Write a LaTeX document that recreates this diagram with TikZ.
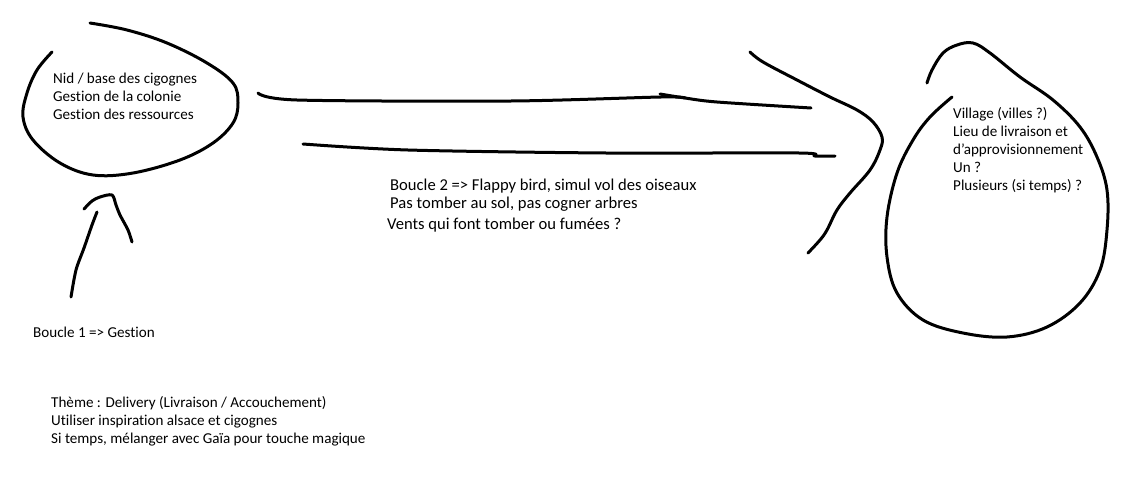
\documentclass[tikz,border=0pt]{standalone}
\usepackage{fontspec}
\setmainfont{Carlito}[Ligatures=NoCommon]
\usetikzlibrary{positioning}

\tikzset{
    note/.style={inner sep=0pt, anchor=west, align=left, text=black,
        font=\fontsize{15.1}{18}\selectfont},
    stroke/.style={line width=3pt, line cap=round, line join=round, black},
}

\begin{document}
\begin{tikzpicture}[x=1pt, y=-1pt]
  \useasboundingbox (0,0) rectangle (1127,479);

  % nid (gauche)
  \draw[stroke] plot[smooth, tension=0.6] coordinates {(90,23) (127,30) (167,43) (207,63)
      (233,83) (238,103) (233,123) (213,143) (180,160) (133,173) (93,175) (60,163)
      (33,140) (23,117) (27,93) (37,70) (52,52)};
  \node[note] (nid) at (53,96) {Nid / base des cigognes\\Gestion de la colonie\\Gestion des ressources};

  % boucle 1
  \draw[stroke] plot[smooth, tension=0.5] coordinates {(71,297) (76,270) (84,248) (92,225) (97,212)};
  \draw[stroke] plot[smooth, tension=0.5] coordinates {(84,209) (92,201) (100,197) (112,195)
      (116,205) (120,215) (128,230) (132,242)};
  \node[note] (boucleun) at (33,332) {Boucle 1 => Gestion};

  % boucle 2
  \draw[stroke] plot[smooth, tension=0.5] coordinates {(258,93) (297,100) (511,101)
      (661,97) (685,98)};
  \draw[stroke] plot[smooth, tension=0.5] coordinates {(660,94) (685,98) (717,102) (811,108)};
  \draw[stroke] plot[smooth, tension=0.5] coordinates {(303,144) (408,150) (606,153)
      (799,153) (815,156) (835,156)};
  \draw[stroke] plot[smooth, tension=0.6] coordinates {(750,52) (763,62) (797,80) (830,97)
      (857,110) (873,122) (882,137) (880,150) (870,170) (850,193) (837,210) (827,230)
      (820,240) (808,253)};
  \node[note, font=\fontsize{16.6}{18}\selectfont] (boucledeux) at (390,206) {Boucle 2 => Flappy bird, simul vol des oiseaux\\Pas tomber au sol, pas cogner arbres\\[3pt]\hspace*{-3pt}Vents qui font tomber ou fumées ?};

  % village (droite)
  \draw[stroke] plot[smooth, tension=0.6] coordinates {(927,83) (932,70) (943,53) (957,45)
      (973,43) (990,53) (1020,77) (1053,100) (1080,127) (1097,157) (1107,190) (1107,230)
      (1100,270) (1080,303) (1047,327) (1007,337) (963,333) (923,320) (897,293) (887,257)
      (887,217) (897,173) (913,140) (930,117) (952,97)};
  \node[note] (village) at (953,150) {Village (villes ?)\\Lieu de livraison et\\d{\char39}approvisionnement\\Un ?\\Plusieurs (si temps) ?};

  % theme
  \node[note] (theme) at (51,421) {Thème : Delivery (Livraison / Accouchement)\\Utiliser inspiration alsace et cigognes\\Si temps, mélanger avec Gaïa pour touche magique};
\end{tikzpicture}
\end{document}
